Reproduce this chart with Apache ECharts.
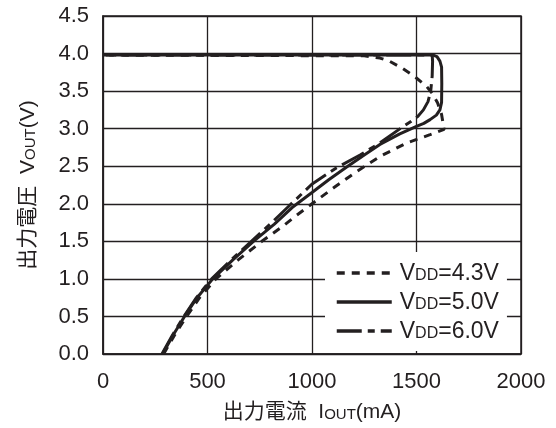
<!DOCTYPE html>
<html>
<head>
<meta charset="utf-8">
<script src="https://cdn.jsdelivr.net/npm/echarts@6/dist/echarts.min.js"></script>
<style>html,body{margin:0;padding:0;background:#fff;}#c{width:556px;height:428px;}</style>
</head>
<body>
<div id="c"></div>
<script>
// ---- data (x: output current mA, y: output voltage V) ----
const xTicks = [0, 500, 1000, 1500, 2000];
const yTicks = [0, 0.5, 1.0, 1.5, 2.0, 2.5, 3.0, 3.5, 4.0, 4.5];
const seriesNames = ['VDD=4.3V', 'VDD=5.0V', 'VDD=6.0V'];
const vdd43 = [[290,0],[342,0.25],[400,0.5],[462,0.75],[540,1.0],[645,1.25],[760,1.5],[860,1.7],[928,1.85],[1000,2.0],[1102,2.21],[1214,2.43],[1325,2.63],[1453,2.81],[1565,2.92],[1632,2.99],[1620,3.19],[1600,3.35],[1575,3.47],[1549,3.56],[1493,3.69],[1429,3.81],[1370,3.9],[1325,3.94],[1250,3.97],[0,3.98]];
const vdd50 = [[285,0],[335,0.25],[390,0.5],[450,0.75],[525,1.0],[620,1.25],[720,1.5],[820,1.73],[905,1.95],[1000,2.15],[1080,2.32],[1166,2.49],[1250,2.65],[1325,2.79],[1420,2.93],[1500,3.03],[1535,3.07],[1565,3.12],[1595,3.18],[1612,3.25],[1620,3.35],[1621,3.6],[1620,3.82],[1612,3.9],[1598,3.96],[1580,3.98],[0,3.98]];
const vdd60 = [[282,0],[332,0.25],[387,0.5],[447,0.75],[520,1.0],[612,1.25],[710,1.5],[800,1.73],[890,1.97],[999,2.26],[1118,2.48],[1230,2.65],[1325,2.81],[1437,3.03],[1475,3.1],[1505,3.16],[1533,3.25],[1555,3.36],[1568,3.5],[1575,3.7],[1577,3.9],[1575,3.98],[0,3.98]];

const FONT = '"Liberation Sans", "Noto Sans CJK JP", sans-serif';
const INK = '#231f20';
const chart = echarts.init(document.getElementById('c'), null, {renderer: 'canvas'});
const richBig = {fontSize: 21, fontFamily: FONT, color: INK, verticalAlign: 'bottom', lineHeight: 24};
const richSmall = {fontSize: 15, fontFamily: FONT, color: INK, verticalAlign: 'bottom', lineHeight: 24, padding: [0, 0, 1, 0]};
const legBig = {fontSize: 23, fontFamily: FONT, color: INK, verticalAlign: 'bottom', lineHeight: 24};
const legSmall = {fontSize: 16, fontFamily: FONT, color: INK, verticalAlign: 'bottom', lineHeight: 24, padding: [0, 0, 1, 0]};

function mk(name, data, dash) {
  return {
    name: name, type: 'line', data: data, symbol: 'none', showSymbol: false, smooth: false,
    lineStyle: {color: INK, width: 3, type: dash},
    itemStyle: {color: INK}
  };
}

chart.setOption({
  animation: false,
  backgroundColor: '#fff',
  grid: {left: 103, right: 35, top: 16, bottom: 73, show: true, borderColor: INK, borderWidth: 1.5, backgroundColor: 'transparent'},
  xAxis: {
    type: 'value', min: xTicks[0], max: xTicks[xTicks.length - 1], interval: 500,
    axisLine: {show: true, lineStyle: {color: INK, width: 1.5}},
    axisTick: {show: false},
    splitLine: {show: true, lineStyle: {color: INK, width: 1.3}},
    axisLabel: {fontSize: 22, fontFamily: FONT, color: INK, margin: 17, formatter: v => String(v)},
    name: '{a|出力電流  I}{b|OUT}{a|(mA)}',
    nameLocation: 'middle', nameGap: 45,
    nameTextStyle: {rich: {a: richBig, b: richSmall}}
  },
  yAxis: {
    type: 'value', min: yTicks[0], max: yTicks[yTicks.length - 1], interval: 0.5,
    axisLine: {show: true, lineStyle: {color: INK, width: 1.5}},
    axisTick: {show: false},
    splitLine: {show: true, lineStyle: {color: INK, width: 1.3}},
    axisLabel: {fontSize: 22, fontFamily: FONT, color: INK, margin: 14, formatter: v => v.toFixed(1)},
    name: '{a|出力電圧  V}{b|OUT}{a|(V)}',
    nameLocation: 'middle', nameRotate: 90, nameGap: 64,
    nameTextStyle: {rich: {a: richBig, b: richSmall}}
  },
  legend: {
    orient: 'vertical', left: 325, top: 252,
    backgroundColor: '#fff', borderWidth: 0,
    padding: [10, 8, 8, 10],
    itemWidth: 55, itemHeight: 20, itemGap: 6,
    itemStyle: {opacity: 0},
    lineStyle: {width: 3.5, color: INK},
    data: seriesNames,
    formatter: n => '{a|V}{b|DD}{a|' + n.slice(3) + '}',
    textStyle: {padding: [0, 0, 0, 3], rich: {a: legBig, b: legSmall}}
  },
  series: [
    mk(seriesNames[0], vdd43, [8, 7]),
    mk(seriesNames[2], vdd60, [25, 6, 7, 6]),
    mk(seriesNames[1], vdd50, 'solid')
  ]
});
</script>
</body>
</html>
